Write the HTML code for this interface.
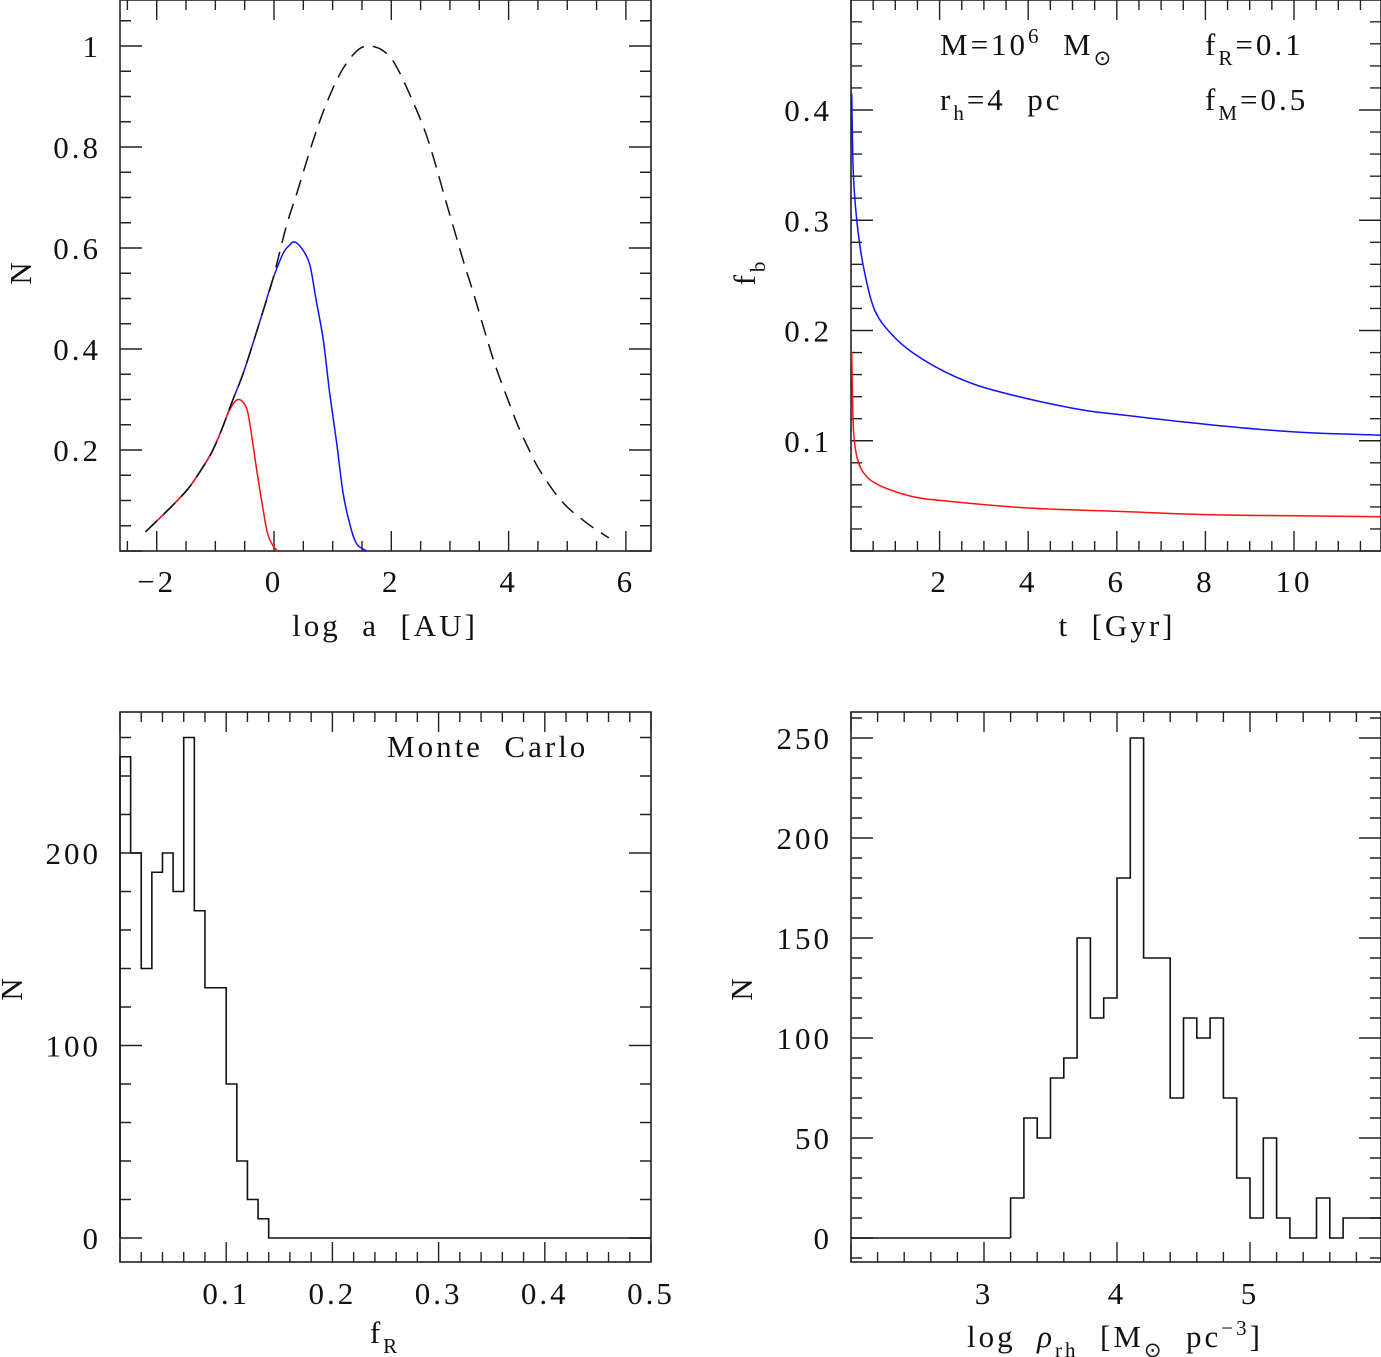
<!DOCTYPE html>
<html><head><meta charset="utf-8"><style>
html,body{margin:0;padding:0;background:#fff;}
svg{display:block;}
text{font-family:"Liberation Serif",serif;fill:#111;font-size:31px;letter-spacing:3px;}
</style></head><body>
<svg id="fig" width="1381" height="1357" viewBox="0 0 1381 1357" xmlns="http://www.w3.org/2000/svg"></svg>
<script>
// ---- Panel A: period distribution ----
const aDashX = [-2.19,-1.74,-1.46,-1.23,-1.05,-0.88,-0.71,-0.54,-0.37,-0.19,-0.02,0.21,0.38,0.66,0.89,1.15,1.41,1.62,1.87,2.07,2.33,2.56,2.73,2.90,3.07,3.24,3.42,3.59,3.76,3.96,4.16,4.33,4.50,4.79,5.02,5.25,5.42,5.71];
const aDashY = [0.038,0.089,0.124,0.163,0.198,0.244,0.297,0.347,0.407,0.474,0.538,0.643,0.705,0.81,0.885,0.95,0.99,1.0,0.99,0.963,0.90,0.836,0.775,0.705,0.637,0.57,0.503,0.436,0.372,0.308,0.248,0.205,0.166,0.115,0.085,0.063,0.048,0.026];
const aBlueX = [-2.19,-1.74,-1.46,-1.23,-1.05,-0.88,-0.71,-0.54,-0.37,-0.19,-0.02,0.15,0.26,0.35,0.48,0.61,0.72,0.84,0.95,1.07,1.18,1.30,1.41,1.58];
const aBlueY = [0.038,0.089,0.124,0.163,0.198,0.244,0.297,0.347,0.407,0.474,0.538,0.588,0.605,0.612,0.598,0.567,0.496,0.418,0.312,0.212,0.113,0.05,0.014,0.0];
const aRedX = [-2.19,-1.74,-1.46,-1.23,-1.05,-0.88,-0.77,-0.68,-0.61,-0.53,-0.45,-0.37,-0.28,-0.19,-0.11,-0.02,0.06];
const aRedY = [0.038,0.089,0.124,0.163,0.198,0.244,0.276,0.294,0.30,0.295,0.276,0.22,0.149,0.085,0.035,0.011,0.0];
// ---- Panel B: binary fraction vs time ----
const bBlueT = [0.016,0.055,0.15,0.30,0.54,0.93,1.39,2.10,2.87,4.0,5.21,6.0,8.0,10.0,11.97];
const bBlueF = [0.415,0.341,0.293,0.254,0.218,0.196,0.18,0.163,0.150,0.138,0.128,0.124,0.115,0.108,0.105];
const bRedT = [0.016,0.04,0.07,0.15,0.30,0.62,1.32,2.1,4.0,6.0,8.0,10.0,11.97];
const bRedF = [0.181,0.128,0.102,0.083,0.070,0.060,0.050,0.0455,0.039,0.036,0.033,0.032,0.031];
// ---- Panel C: f_R histogram (bin width 0.01) ----
const cEdgeStart = 0.0;
const cCounts = [250,200,140,190,200,180,260,170,130,130,80,40,20,10,0,0,0,0,0,0,0,0,0,0,0,0,0,0,0,0,0,0,0,0,0,0,0,0,0,0,0,0,0,0,0,0,0,0,0,0];
// ---- Panel D: log rho histogram (bin width 0.1) ----
const dEdgeStart = 3.2;
const dCounts = [20,60,50,80,90,150,110,120,180,250,140,140,70,110,100,110,70,30,10,50,10,0,0,20,0,10,10,10];
// tick label arrays
const aXTicks = [-2,0,2,4,6];
const aYTicks = ["0.2","0.4","0.6","0.8","1"];
const bXTicks = [2,4,6,8,10];
const bYTicks = ["0.1","0.2","0.3","0.4"];
const cXTicks = ["0.1","0.2","0.3","0.4","0.5"];
const cYTicks = ["0","100","200"];
const dXTicks = ["3","4","5"];
const dYTicks = ["0","50","100","150","200","250"];

const NS="http://www.w3.org/2000/svg";
const svg=document.getElementById('fig');
function el(tag,parent){const e=document.createElementNS(NS,tag);parent.appendChild(e);return e;}
function mkScale(d0,d1,p0,p1){return v=>p0+(v-d0)*(p1-p0)/(d1-d0);}

function panel(name,L,T,R,B,sx,sy,xd,yd){
  const g=el('g',svg);
  
  
  const fr=el('rect',g);
  
  
  fr.setAttribute('x',L);fr.setAttribute('y',T);fr.setAttribute('width',R-L);fr.setAttribute('height',B-T);
  fr.setAttribute('fill','none');fr.setAttribute('stroke','#222');fr.setAttribute('stroke-width','1.6');
  let d='';
  for(let v=xd.min;v<=xd.max+1e-9;v+=xd.minor){
    const vv=Math.round(v*1e6)/1e6;const x=sx(vv);if(x<L-0.5||x>R+0.5)continue;
    const maj=Math.abs(vv/xd.major-Math.round(vv/xd.major))<1e-6;const len=maj?20:10;
    d+=`M${x},${B}V${B-len}M${x},${T}V${T+len}`;
  }
  for(let v=yd.min;v<=yd.max+1e-9;v+=yd.minor){
    const vv=Math.round(v*1e6)/1e6;const y=sy(vv);if(y<T-0.5||y>B+0.5)continue;
    const maj=Math.abs(vv/yd.major-Math.round(vv/yd.major))<1e-6;const len=maj?22:11;
    d+=`M${L},${y}H${L+len}M${R},${y}H${R-len}`;
  }
  const tk=el('path',g);
  
  
  tk.setAttribute('d',d);tk.setAttribute('stroke','#222');tk.setAttribute('stroke-width','1.4');tk.setAttribute('fill','none');
  return g;
}
function xLabels(g,name,ticks,sx,y){
  ticks.forEach(t=>{const tx=el('text',g);
    
    
    tx.setAttribute('x',sx(parseFloat(t)));tx.setAttribute('y',y);tx.setAttribute('text-anchor','middle');
    tx.textContent=String(t).replace('-','\u2212');});
}
function yLabels(g,name,ticks,sy,x){
  ticks.forEach(t=>{const tx=el('text',g);
    
    
    tx.setAttribute('x',x);tx.setAttribute('y',sy(parseFloat(t))+11);tx.setAttribute('text-anchor','end');
    tx.textContent=t;});
}
function smoothPath(P){
  let d=`M${P[0][0].toFixed(1)},${P[0][1].toFixed(1)}`;
  for(let i=0;i<P.length-1;i++){
    const p0=P[Math.max(0,i-1)],p1=P[i],p2=P[i+1],p3=P[Math.min(P.length-1,i+2)];
    const c1=[p1[0]+(p2[0]-p0[0])/6,p1[1]+(p2[1]-p0[1])/6];
    const c2=[p2[0]-(p3[0]-p1[0])/6,p2[1]-(p3[1]-p1[1])/6];
    d+=`C${c1[0].toFixed(1)},${c1[1].toFixed(1)} ${c2[0].toFixed(1)},${c2[1].toFixed(1)} ${p2[0].toFixed(1)},${p2[1].toFixed(1)}`;
  }
  return d;
}
function line(g,name,xs,ys,sx,sy,color,dash){
  const p=el('path',g);
  
  
  p.setAttribute('d',smoothPath(xs.map((x,i)=>[sx(x),sy(ys[i])])));
  p.setAttribute('fill','none');p.setAttribute('stroke',color);p.setAttribute('stroke-width','1.5');
  p.setAttribute('stroke-linejoin','round');
  if(dash)p.setAttribute('stroke-dasharray',dash);
}
function hist(g,name,start,w,counts,sx,sy){
  let d=`M${sx(start)},${sy(0)}`;
  counts.forEach((c,i)=>{const x0=sx(start+i*w),x1=sx(start+(i+1)*w);d+=`L${x0},${sy(c)}L${x1},${sy(c)}`;});
  const p=el('path',g);
  
  
  p.setAttribute('d',d);p.setAttribute('fill','none');p.setAttribute('stroke','#111');p.setAttribute('stroke-width','1.6');
}
function txt(g,name,x,y,html,anchor,rot){
  const t=el('text',g);
  
  
  t.setAttribute('x',x);t.setAttribute('y',y);
  if(anchor)t.setAttribute('text-anchor',anchor);
  if(rot)t.setAttribute('transform',`rotate(-90 ${x} ${y})`);
  t.innerHTML=html;return t;
}

// Panel A
{const sx=mkScale(0,2,274,391.3),sy=mkScale(0,1,551,46);
 const g=panel('panel-period',120,0,651,551,sx,sy,{min:-2.5,max:6.5,minor:0.5,major:2},{min:0,max:1.1,minor:0.05,major:0.2});
 line(g,'blue-curve',aBlueX,aBlueY,sx,sy,'#1010ff');
 line(g,'red-curve',aRedX,aRedY,sx,sy,'#ff1010');
 line(g,'dashed-total-curve',aDashX,aDashY,sx,sy,'#111','16,9');
 xLabels(g,'panel-period',aXTicks,sx,592);
 yLabels(g,'panel-period',aYTicks,sy,101);
 txt(g,'x-axis-title',385,636,'log&#160;&#160;a&#160;&#160;[AU]','middle');
 txt(g,'y-axis-title',31,272,'N','middle',true);}
// Panel B
{const sx=mkScale(0,2,851,939.6),sy=mkScale(0,0.4,551,110);
 const g=panel('panel-fb-time',851,0,1381,551,sx,sy,{min:0,max:12,minor:0.5,major:2},{min:0,max:0.5,minor:0.02,major:0.1});
 line(g,'blue-curve-fb',bBlueT,bBlueF,sx,sy,'#1010ff');
 line(g,'red-curve-fb',bRedT,bRedF,sx,sy,'#ff1010');
 xLabels(g,'panel-fb-time',bXTicks,sx,592);
 yLabels(g,'panel-fb-time',bYTicks,sy,832);
 txt(g,'x-axis-title',1117,636,'t&#160;&#160;[Gyr]','middle');
 txt(g,'y-axis-title',755,272,'f<tspan dy="10" font-size="21">b</tspan>','middle',true);
 txt(g,'annotation-mass',940,55,'M=10<tspan dy="-12" font-size="21">6</tspan><tspan dy="12">&#160;&#160;M</tspan><tspan dy="10" font-size="21">⊙</tspan>');
 txt(g,'annotation-rh',940,110,'r<tspan dy="10" font-size="21">h</tspan><tspan dy="-10">=4&#160;&#160;pc</tspan>');
 txt(g,'annotation-fr',1205,55,'f<tspan dy="10" font-size="21">R</tspan><tspan dy="-10">=0.1</tspan>');
 txt(g,'annotation-fm',1205,110,'f<tspan dy="10" font-size="21">M</tspan><tspan dy="-10">=0.5</tspan>');}
// Panel C
{const sx=mkScale(0,0.5,120,651),sy=mkScale(0,200,1238,853);
 const g=panel('panel-fr-hist',120,712,651,1262,sx,sy,{min:0,max:0.5,minor:0.02,major:0.1},{min:0,max:273,minor:20,major:100});
 hist(g,'fr-histogram',cEdgeStart,0.01,cCounts,sx,sy);
 xLabels(g,'panel-fr-hist',cXTicks,sx,1304);
 yLabels(g,'panel-fr-hist',cYTicks,sy,101);
 txt(g,'x-axis-title',385,1343,'f<tspan dy="10" font-size="21">R</tspan>','middle');
 txt(g,'y-axis-title',22,988,'N','middle',true);
 txt(g,'monte-carlo-label',387,757,'Monte&#160;&#160;Carlo');}
// Panel D
{const sx=mkScale(3,4,984,1117),sy=mkScale(0,250,1238,738);
 const g=panel('panel-rho-hist',851,712,1381,1262,sx,sy,{min:2,max:6,minor:0.2,major:1},{min:-10,max:260,minor:10,major:50});
 hist(g,'rho-histogram',dEdgeStart,0.1,dCounts,sx,sy);
 const base=el('path',g);
 
 
 base.setAttribute('d',`M851,${sy(0)}H${sx(dEdgeStart)}`);base.setAttribute('stroke','#111');base.setAttribute('stroke-width','1.6');
 xLabels(g,'panel-rho-hist',dXTicks,sx,1304);
 yLabels(g,'panel-rho-hist',dYTicks,sy,832);
 txt(g,'x-axis-title',1115,1347,'log&#160;&#160;<tspan font-style="italic">ρ</tspan><tspan dy="10" font-size="21">rh</tspan><tspan dy="-10">&#160;&#160;[M</tspan><tspan dy="10" font-size="21">⊙</tspan><tspan dy="-10">&#160;&#160;pc</tspan><tspan dy="-12" font-size="21">−3</tspan><tspan dy="12">]</tspan>','middle');
 txt(g,'y-axis-title',752,988,'N','middle',true);}
</script>
</body></html>
